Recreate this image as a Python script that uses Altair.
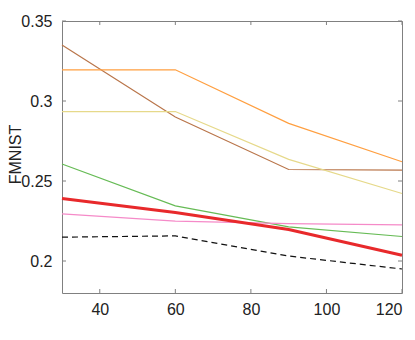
import altair as alt
import pandas as pd

x_vals = [30, 60, 90, 120]
series_names = ["brown", "orange", "yellow", "green", "pink", "black", "red"]
brown = [0.335, 0.290, 0.2572, 0.2568]
orange = [0.3195, 0.3195, 0.286, 0.262]
yellow = [0.2934, 0.2934, 0.2635, 0.2422]
green = [0.2606, 0.2345, 0.2213, 0.2153]
pink = [0.2294, 0.2249, 0.2234, 0.2226]
black = [0.2149, 0.2157, 0.2031, 0.195]
red = [0.2391, 0.2303, 0.2197, 0.2036]
series_values = [brown, orange, yellow, green, pink, black, red]
colors = ["#b9754a", "#ff9f40", "#e6d98a", "#66bb55", "#f58ac8", "#111111", "#e8292b"]

x_ticks = [40, 60, 80, 100, 120]
y_ticks = [0.2, 0.25, 0.3, 0.35]

W, H = 340, 272
FONT = "Liberation Sans"

rows = []
for name, vals in zip(series_names, series_values):
    for xv, yv in zip(x_vals, vals):
        rows.append({"series": name, "x": xv, "y": yv})
df = pd.DataFrame(rows)

xscale = alt.Scale(domain=[30, 120], nice=False, zero=False)
yscale = alt.Scale(domain=[0.18, 0.35], nice=False, zero=False)

x_axis = alt.Axis(values=x_ticks, title=None, grid=False, domain=False,
                  ticks=False, tickSize=0, labelPadding=8,
                  labelFont=FONT, labelFontSize=16, labelColor="#222")
y_axis = alt.Axis(values=y_ticks, format=".2~f", title="FMNIST", grid=False,
                  domain=False, ticks=False, tickSize=0, labelPadding=10,
                  labelFont=FONT, labelFontSize=16, labelColor="#222",
                  titleFont=FONT, titleFontSize=16, titleFontWeight="normal",
                  titleColor="#222", titleAngle=270, titleAlign="center",
                  titleBaseline="alphabetic", titleX=-42, titleY=133)

color_scale = alt.Scale(domain=series_names, range=colors)

thin = alt.Chart(df).transform_filter(
    "datum.series != 'red' && datum.series != 'black'"
).mark_line(strokeWidth=1.2).encode(
    x=alt.X("x:Q", scale=xscale, axis=x_axis),
    y=alt.Y("y:Q", scale=yscale, axis=y_axis),
    color=alt.Color("series:N", scale=color_scale, legend=None),
    order=alt.Order("x:Q"),
)
dashed = alt.Chart(df).transform_filter("datum.series == 'black'").mark_line(
    strokeWidth=1.2, strokeDash=[6, 4]
).encode(
    x=alt.X("x:Q", scale=xscale),
    y=alt.Y("y:Q", scale=yscale),
    color=alt.Color("series:N", scale=color_scale, legend=None),
    order=alt.Order("x:Q"),
)
thick = alt.Chart(df).transform_filter("datum.series == 'red'").mark_line(
    strokeWidth=3
).encode(
    x=alt.X("x:Q", scale=xscale),
    y=alt.Y("y:Q", scale=yscale),
    color=alt.Color("series:N", scale=color_scale, legend=None),
    order=alt.Order("x:Q"),
)

tick_color = "#808080"
xt = pd.DataFrame({"x": x_ticks})
yt = pd.DataFrame({"y": y_ticks})

xb = alt.Chart(xt).mark_rule(color=tick_color, strokeWidth=1).encode(
    x=alt.X("x:Q", scale=xscale), y=alt.value(H), y2=alt.value(H - 4))
xtp = alt.Chart(xt).mark_rule(color=tick_color, strokeWidth=1).encode(
    x=alt.X("x:Q", scale=xscale), y=alt.value(0), y2=alt.value(4))
yl = alt.Chart(yt).mark_rule(color=tick_color, strokeWidth=1).encode(
    y=alt.Y("y:Q", scale=yscale), x=alt.value(0), x2=alt.value(4))
yr = alt.Chart(yt).mark_rule(color=tick_color, strokeWidth=1).encode(
    y=alt.Y("y:Q", scale=yscale), x=alt.value(W), x2=alt.value(W - 4))

chart = alt.layer(thin, dashed, thick, xb, xtp, yl, yr).properties(
    width=W, height=H,
    padding={"left": 54, "top": 13, "right": 5, "bottom": 40},
    autosize=alt.AutoSizeParams(type="none"),
).configure_view(stroke="#808080", strokeWidth=1)

chart.save("out.html", embed_options={"renderer": "svg", "actions": False})
